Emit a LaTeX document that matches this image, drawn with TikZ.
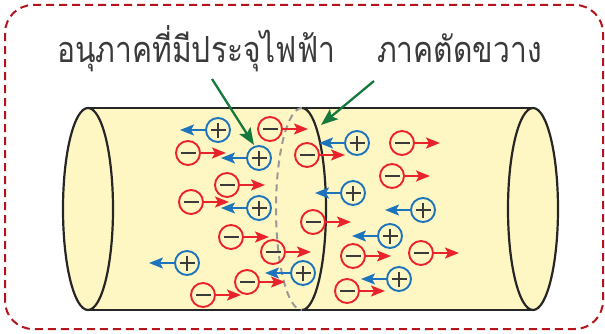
\documentclass[tikz,border=0pt]{standalone}
\usepackage{fontspec}
\usepackage{tikz}
\usetikzlibrary{arrows.meta}
\newfontfamily\thaifont[Script=Thai]{Loma}
\definecolor{tube}{HTML}{FFF7C3}
\definecolor{frame}{HTML}{B3141E}
\definecolor{negred}{HTML}{E8232B}
\definecolor{posblue}{HTML}{1D74BC}
\definecolor{sign}{HTML}{3A3A3A}
\definecolor{pointer}{HTML}{14793A}

\begin{document}
\begin{tikzpicture}[x=1pt,y=1pt,
		charge/.style={circle,line width=1.9pt,minimum size=24pt,inner sep=0pt},
		pcharge/.style={charge,draw=posblue,path picture={
			\draw[sign,line width=1.4pt]
				([xshift=-7.5pt]path picture bounding box.center) -- ([xshift=7.5pt]path picture bounding box.center)
				([yshift=-7.5pt]path picture bounding box.center) -- ([yshift=7.5pt]path picture bounding box.center);}},
		ncharge/.style={charge,draw=negred,path picture={
			\draw[sign,line width=1.4pt]
				([xshift=-7.5pt]path picture bounding box.center) -- ([xshift=7.5pt]path picture bounding box.center);}},
		drift/.style={line width=1.7pt,-{Stealth[length=14pt,width=11pt,inset=3pt]}},
		pointto/.style={pointer,line width=2.3pt,-{Stealth[length=17pt,width=13pt,inset=3.5pt]}},
		caption/.style={anchor=base west,inner sep=0pt,text=sign,font=\thaifont\fontsize{30}{36}\selectfont}]
		\useasboundingbox (0,0) rectangle (605,333);
%		\draw[help lines,step=20] (0,0) grid (605,333);
		\path (88,124) coordinate (endl);
		\path (533,124) coordinate (endr);
		\path (302,225) coordinate (cuttop);
		\path (212,254) coordinate (lbl_tail);
		\path (254,188) coordinate (lbl_head);
		\path (374,252) coordinate (cut_tail);
		\path (321,208) coordinate (cut_head);

		% dashed frame
		\draw[frame,line width=2pt,dash pattern=on 8pt off 5pt,rounded corners=28] (5,4) rectangle (603,328);

		% the tube
		\fill[tube] (88,225) rectangle (533,23);
		\draw[line width=2.2pt,color=black!85] (88,225) -- (533,225) (88,23) -- (533,23);
		\filldraw[fill=tube,draw=black!85,line width=2.2pt] (endr) ellipse [x radius=25,y radius=101];
		\filldraw[fill=tube,draw=black!85,line width=2.2pt] (endl) ellipse [x radius=25,y radius=101];
		\draw[black!40,line width=2pt,dash pattern=on 7pt off 5pt] (cuttop) arc[start angle=90,end angle=270,x radius=26,y radius=101];
		\draw[black!85,line width=2.2pt] (cuttop) arc[start angle=90,end angle=-90,x radius=24,y radius=101];

		% charges drifting to the right
		\foreach \x/\y [count=\i] in {270/204,188/180,227/148,191/131,231/96,273/81,247/51,203/38,
				402/190,307/178,392/157,313/111,353/77,421/80,347/42} {
			\node[ncharge] (neg\i) at (\x,\y) {};
			\path (neg\i.center) +(38,0) coordinate (negto\i);
			\draw[drift,negred] (neg\i) -- (negto\i);
		}
		% charges drifting to the left
		\foreach \x/\y [count=\i] in {218/203,259/175,259/125,187/70,303/60,
				357/190,353/140,423/123,390/97,399/54} {
			\node[pcharge] (pos\i) at (\x,\y) {};
			\path (pos\i.center) +(-38,0) coordinate (posto\i);
			\draw[drift,posblue] (pos\i) -- (posto\i);
		}

		% labels
		\node[caption] (lbl) at (57,271) {\scalebox{1}[1.2]{อนุภาคที่มีประจุไฟฟ้า}};
		\node[caption] (cut) at (377,271) {\scalebox{1}[1.2]{ภาคตัดขวาง}};
		\draw[pointto] (lbl_tail) -- (lbl_head);
		\draw[pointto] (cut_tail) -- (cut_head);
	\end{tikzpicture}
\end{document}
